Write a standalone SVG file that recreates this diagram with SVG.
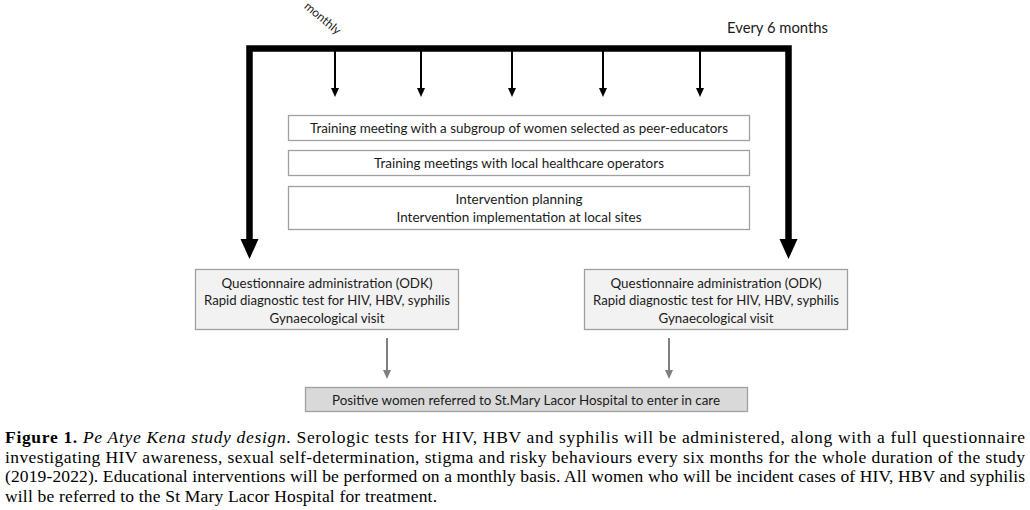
<svg xmlns="http://www.w3.org/2000/svg" width="1030" height="510" viewBox="0 0 1030 510">
<style>
.lbl{font-family:Lato,"Open Sans","Liberation Sans",sans-serif;font-size:14px;fill:#1a1a1a;text-anchor:middle}
.box{stroke:#a0a0a0;stroke-width:1.3}
.cap{font-family:"Liberation Serif","Times New Roman",serif;fill:#000}
</style>
<rect width="1030" height="510" fill="#fff"/>
<g id="connectors">
<path d="M249.5,240 V48.5 H788.5 V240" fill="none" stroke="#000" stroke-width="6.5" stroke-linejoin="miter"/>
<polygon points="240.5,239 258.5,239 249.5,259" fill="#000"/>
<polygon points="779.5,239 797.5,239 788.5,259" fill="#000"/>
<g stroke="#000" stroke-width="2">
<line x1="335" y1="50" x2="335" y2="89"/>
<line x1="421" y1="50" x2="421" y2="89"/>
<line x1="512" y1="50" x2="512" y2="89"/>
<line x1="603" y1="50" x2="603" y2="89"/>
<line x1="700" y1="50" x2="700" y2="89"/>
</g>
<g fill="#000">
<polygon points="331,88 339,88 335,97"/>
<polygon points="417,88 425,88 421,97"/>
<polygon points="508,88 516,88 512,97"/>
<polygon points="599,88 607,88 603,97"/>
<polygon points="696,88 704,88 700,97"/>
</g>
<g stroke="#7f7f7f" stroke-width="2">
<line x1="387" y1="338" x2="387" y2="371"/>
<line x1="669" y1="338" x2="669" y2="371"/>
</g>
<g fill="#7f7f7f">
<polygon points="383,370 391,370 387,379"/>
<polygon points="665,370 673,370 669,379"/>
</g>
</g>
<g id="label-monthly">
<text transform="translate(322,19) rotate(40)" font-family="Lato, Open Sans, Liberation Sans, sans-serif" font-size="12" fill="#1a1a1a" text-anchor="middle" dominant-baseline="middle">monthly</text>
</g>
<g id="label-every6">
<text x="727" y="33" font-family="Lato, Open Sans, Liberation Sans, sans-serif" font-size="15" fill="#1a1a1a" textLength="101" lengthAdjust="spacingAndGlyphs">Every 6 months</text>
</g>
<g id="node-peer">
<rect class="box" x="288.5" y="115.5" width="461" height="25" fill="#fff"/>
<text class="lbl" x="519" y="133" textLength="418" lengthAdjust="spacingAndGlyphs">Training meeting with a subgroup of women selected as peer-educators</text>
</g>
<g id="node-operators">
<rect class="box" x="288.5" y="150.5" width="461" height="25" fill="#fff"/>
<text class="lbl" x="519" y="167.5" textLength="290" lengthAdjust="spacingAndGlyphs">Training meetings with local healthcare operators</text>
</g>
<g id="node-planning">
<rect class="box" x="288.5" y="186.5" width="461" height="43" fill="#fff"/>
<text class="lbl" x="519" y="204" textLength="127" lengthAdjust="spacingAndGlyphs">Intervention planning</text>
<text class="lbl" x="519" y="221.5" textLength="245" lengthAdjust="spacingAndGlyphs">Intervention implementation at local sites</text>
</g>
<g id="node-baseline">
<rect class="box" x="195.5" y="269.5" width="263" height="60" fill="#f2f2f2"/>
<text class="lbl" x="327" y="287.5" textLength="211" lengthAdjust="spacingAndGlyphs">Questionnaire administration (ODK)</text>
<text class="lbl" x="327" y="305" textLength="246" lengthAdjust="spacingAndGlyphs">Rapid diagnostic test for HIV, HBV, syphilis</text>
<text class="lbl" x="327" y="322.5" textLength="115" lengthAdjust="spacingAndGlyphs">Gynaecological visit</text>
</g>
<g id="node-followup">
<rect class="box" x="584.5" y="269.5" width="263" height="60" fill="#f2f2f2"/>
<text class="lbl" x="716" y="287.5" textLength="211" lengthAdjust="spacingAndGlyphs">Questionnaire administration (ODK)</text>
<text class="lbl" x="716" y="305" textLength="246" lengthAdjust="spacingAndGlyphs">Rapid diagnostic test for HIV, HBV, syphilis</text>
<text class="lbl" x="716" y="322.5" textLength="115" lengthAdjust="spacingAndGlyphs">Gynaecological visit</text>
</g>
<g id="node-referral">
<rect class="box" x="305.5" y="387.5" width="442" height="24" fill="#d9d9d9"/>
<text class="lbl" x="526" y="404.5" textLength="388" lengthAdjust="spacingAndGlyphs">Positive women referred to St.Mary Lacor Hospital to enter in care</text>
</g>
<g id="caption" font-size="17.5">
<text class="cap" x="5" y="443" textLength="1020" lengthAdjust="spacing"><tspan font-weight="bold">Figure 1.</tspan> <tspan font-style="italic">Pe Atye Kena study design</tspan>. Serologic tests for HIV, HBV and syphilis will be administered, along with a full questionnaire</text>
<text class="cap" x="5" y="462.5" textLength="1020" lengthAdjust="spacing">investigating HIV awareness, sexual self-determination, stigma and risky behaviours every six months for the whole duration of the study</text>
<text class="cap" x="5" y="482" textLength="1020" lengthAdjust="spacing">(2019-2022). Educational interventions will be performed on a monthly basis. All women who will be incident cases of HIV, HBV and syphilis</text>
<text class="cap" x="5" y="502" textLength="432" lengthAdjust="spacing">will be referred to the St Mary Lacor Hospital for treatment.</text>
</g>
</svg>
